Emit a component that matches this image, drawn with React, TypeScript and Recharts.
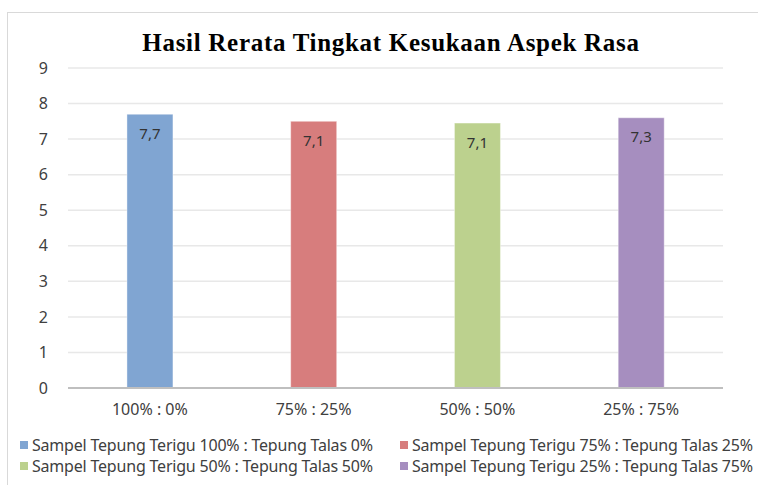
import { Bar, BarChart, CartesianGrid, Cell, LabelList, Legend, XAxis, YAxis } from 'recharts'

const categories = ['100% : 0%', '75% : 25%', '50% : 50%', '25% : 75%']
const values = [7.7, 7.5, 7.45, 7.6]
const valueLabels = ['7,7', '7,1', '7,1', '7,3']
const seriesNames = [
    'Sampel Tepung Terigu 100% : Tepung Talas 0%',
    'Sampel Tepung Terigu 75% : Tepung Talas 25%',
    'Sampel Tepung Terigu 50% : Tepung Talas 50%',
    'Sampel Tepung Terigu 25% : Tepung Talas 75%',
]
const yTicks = [0, 1, 2, 3, 4, 5, 6, 7, 8, 9]

const colors = ['#80a5d2', '#d77d7d', '#bcd18e', '#a68ebf']
const font = "'Noto Sans', sans-serif"

const data = categories.map((c, i) => ({ name: c, value: values[i], label: valueLabels[i] }))

function LegendBox() {
    return (
        <div style={{ display: 'grid', gridTemplateColumns: '380px 370px', fontFamily: font, fontSize: 16, color: '#404040', paddingLeft: 12, paddingTop: 2 }}>
            {seriesNames.map((n, i) => (
                <div key={n} style={{ display: 'flex', alignItems: 'center', whiteSpace: 'nowrap', height: 21, letterSpacing: -0.2 }}>
                    <span style={{ display: 'inline-block', width: 8, height: 8, background: colors[i], marginRight: 4 }} />
                    {n}
                </div>
            ))}
        </div>
    )
}

export default function App() {
    return (
        <div style={{ position: 'absolute', left: 0, top: 0, width: 758, height: 485, background: '#fff', overflow: 'hidden' }}>
            <div style={{ position: 'absolute', left: 7, top: 12, width: 800, height: 500, border: '1px solid #d9d9d9' }} />
            <div style={{ position: 'absolute', left: 0, width: 782, top: 29, textAlign: 'center', fontFamily: "'Liberation Serif', serif", fontWeight: 'bold', fontSize: 25, letterSpacing: 0.7, color: '#000' }}>
                Hasil Rerata Tingkat Kesukaan Aspek Rasa
            </div>
            <BarChart width={758} height={485} data={data} margin={{ top: 68, right: 35, left: 8, bottom: 9 }} barCategoryGap="36%">
                <CartesianGrid vertical={false} stroke="#e8e8e8" strokeWidth={1.5} />
                <XAxis dataKey="name" axisLine={{ stroke: '#bfbfbf', strokeWidth: 2 }} tickLine={false} height={44} tickMargin={10}
                    tick={{ fill: '#404040', fontSize: 16, fontFamily: font }} />
                <YAxis domain={[0, 9]} ticks={yTicks} width={60} axisLine={false} tickLine={false} tickMargin={14}
                    tick={{ fill: '#404040', fontSize: 16, fontFamily: font }} />
                <Legend verticalAlign="bottom" align="left" height={44} content={() => <LegendBox />} />
                <Bar dataKey="value" isAnimationActive={false}>
                    {data.map((d, i) => <Cell key={d.name} fill={colors[i]} stroke="#ffffff" strokeOpacity={0.4} />)}
                    <LabelList dataKey="label" position="insideTop" offset={14} fill="#333333" fontSize={15} fontFamily={font} />
                </Bar>
            </BarChart>
        </div>
    )
}
